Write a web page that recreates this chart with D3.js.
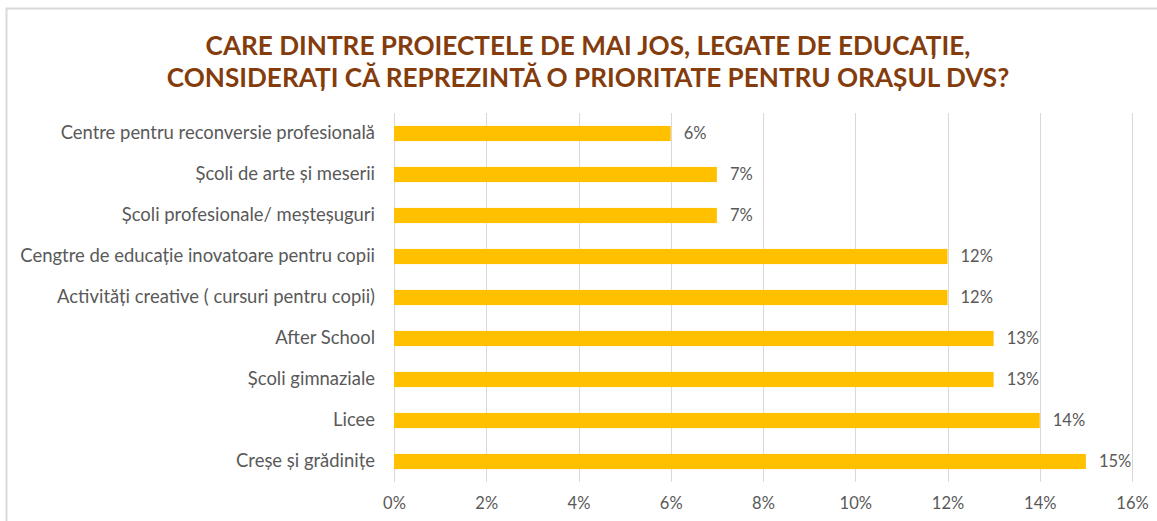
<!DOCTYPE html>
<html>
<head>
<meta charset="utf-8">
<script src="https://cdn.jsdelivr.net/npm/d3@7"></script>
<style>
  html, body { margin: 0; padding: 0; background: #fff; }
  svg { display: block; }
  text { font-family: Lato, "Open Sans", "DejaVu Sans", sans-serif; }
</style>
</head>
<body>
<svg id="chart" width="1157" height="521"></svg>
<script>
// date
const categories = [
  'Centre pentru reconversie profesională',
  'Școli de arte și meserii',
  'Școli profesionale/ meșteșuguri',
  'Cengtre de educație inovatoare pentru copii',
  'Activități creative ( cursuri pentru copii)',
  'After School',
  'Școli gimnaziale',
  'Licee',
  'Creșe și grădinițe'
];
const values = [0.06, 0.07, 0.07, 0.12, 0.12, 0.13, 0.13, 0.14, 0.15];
const xTicks = [0, 0.02, 0.04, 0.06, 0.08, 0.10, 0.12, 0.14, 0.16];
const titleLines = [
  'CARE DINTRE PROIECTELE DE MAI JOS, LEGATE DE EDUCAȚIE,',
  'CONSIDERAȚI CĂ REPREZINTĂ O PRIORITATE PENTRU ORAȘUL DVS?'
];

const W = 1157, H = 521;
const M = { left: 394, right: W - 1132, top: 113, bottom: H - 482 };
const GRID = '#d9d9d9', TXT = '#595959', BAR = '#ffc000', TITLE = '#843c0c';
const NUM_FS = 16.5;

const svg = d3.select('#chart');

// chenar
svg.append('rect')
  .attr('x', 6.5).attr('y', 8.5)
  .attr('width', W + 10).attr('height', H + 10)
  .attr('fill', 'none').attr('stroke', '#d9d9d9').attr('stroke-width', 2);

// potrivește un text la o lățime țintă, schimbând mărimea fontului
function fitFont(sel, targetW, baseSize) {
  sel.style('font-size', baseSize + 'px');
  const w = sel.node().getComputedTextLength();
  const fs = baseSize * targetW / w;
  sel.style('font-size', fs + 'px');
  return fs;
}

// titlu
const title = svg.append('g');
const t1 = title.append('text')
  .attr('x', 588).attr('y', 55)
  .attr('text-anchor', 'middle')
  .attr('fill', TITLE).attr('font-weight', 700)
  .text(titleLines[0]);
const fsT = fitFont(t1, 765, 22);
title.append('text')
  .attr('x', 588).attr('y', 87)
  .attr('text-anchor', 'middle')
  .attr('fill', TITLE).attr('font-weight', 700)
  .style('font-size', fsT + 'px')
  .text(titleLines[1]);

const x = d3.scaleLinear().domain([0, 0.16]).range([M.left, W - M.right]);
const y = d3.scaleBand().domain(categories).range([M.top, H - M.bottom]).paddingInner(0.63).paddingOuter(0.315);

// grilă verticală
svg.append('g')
  .selectAll('line')
  .data(xTicks)
  .join('line')
  .attr('x1', d => Math.round(x(d)) + 0.5).attr('x2', d => Math.round(x(d)) + 0.5)
  .attr('y1', M.top).attr('y2', H - M.bottom)
  .attr('stroke', GRID).attr('stroke-width', 1);

// axa x (doar etichete)
const xAxis = svg.append('g')
  .attr('transform', `translate(0,${H - M.bottom})`)
  .call(d3.axisBottom(x).tickValues(xTicks).tickFormat(d3.format('.0%')).tickSize(0).tickPadding(15));
xAxis.select('.domain').remove();
xAxis.selectAll('text')
  .attr('fill', TXT)
  .style('font-size', NUM_FS + 'px')
  .style('font-family', 'Lato, "Open Sans", sans-serif');

// axa y (doar etichete)
const yAxis = svg.append('g')
  .attr('transform', `translate(${M.left},0)`)
  .call(d3.axisLeft(y).tickSize(0).tickPadding(19));
yAxis.select('.domain').remove();
const yText = yAxis.selectAll('text')
  .attr('fill', TXT)
  .style('font-family', 'Lato, "Open Sans", sans-serif');
const longest = yText.filter(d => d === categories[3]);
const fsY = fitFont(longest, 355, 14);
yText.style('font-size', fsY + 'px');

// bare
svg.append('g')
  .selectAll('rect')
  .data(categories)
  .join('rect')
  .attr('x', x(0))
  .attr('y', d => y(d))
  .attr('width', (d, i) => x(values[i]) - x(0))
  .attr('height', y.bandwidth())
  .attr('fill', BAR);

// etichete valori
svg.append('g')
  .selectAll('text')
  .data(categories)
  .join('text')
  .attr('x', (d, i) => x(values[i]) + 13)
  .attr('y', d => y(d) + y.bandwidth() / 2)
  .attr('dy', '0.35em')
  .attr('fill', TXT)
  .style('font-size', NUM_FS + 'px')
  .text((d, i) => d3.format('.0%')(values[i]));
</script>
</body>
</html>
